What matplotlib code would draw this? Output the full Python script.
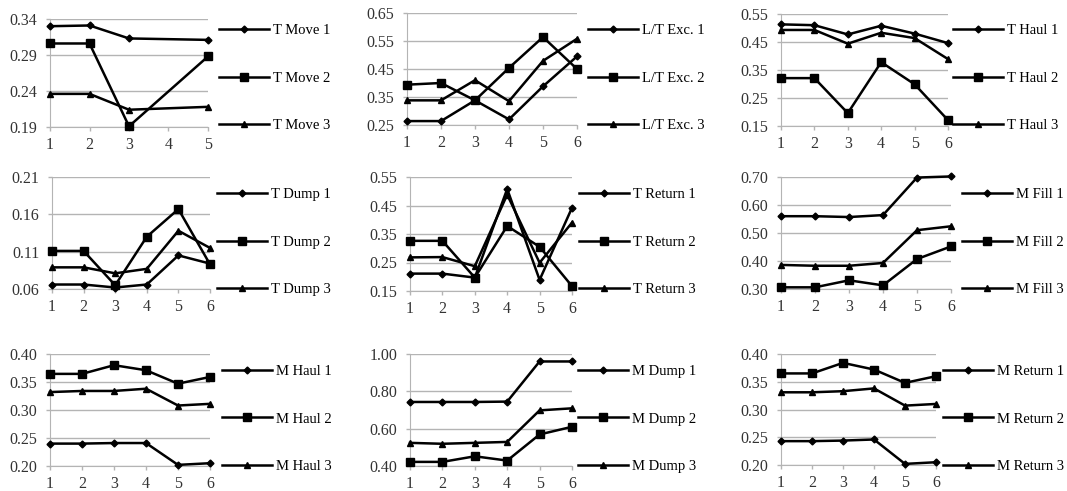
import matplotlib
matplotlib.use("Agg")
import matplotlib.pyplot as plt

plt.rcParams['font.family'] = ['Liberation Serif', 'DejaVu Serif']

# x positions
x_move = [1, 2, 3, 5]
x6 = [1, 2, 3, 4, 5, 6]

# row 1
t_move1 = [0.330, 0.331, 0.313, 0.311]
t_move2 = [0.306, 0.306, 0.191, 0.288]
t_move3 = [0.236, 0.236, 0.214, 0.218]

lt_exc1 = [0.264, 0.264, 0.338, 0.270, 0.388, 0.495]
lt_exc2 = [0.394, 0.400, 0.338, 0.454, 0.564, 0.450]
lt_exc3 = [0.338, 0.338, 0.410, 0.335, 0.479, 0.558]

t_haul1 = [0.513, 0.510, 0.477, 0.508, 0.480, 0.446]
t_haul2 = [0.321, 0.321, 0.196, 0.378, 0.299, 0.171]
t_haul3 = [0.493, 0.493, 0.444, 0.483, 0.464, 0.389]

# row 2
t_dump1 = [0.066, 0.066, 0.062, 0.066, 0.105, 0.094]
t_dump2 = [0.111, 0.111, 0.065, 0.130, 0.167, 0.093]
t_dump3 = [0.089, 0.089, 0.081, 0.087, 0.138, 0.115]

t_ret1 = [0.211, 0.211, 0.197, 0.508, 0.189, 0.442]
t_ret2 = [0.326, 0.326, 0.197, 0.378, 0.305, 0.167]
t_ret3 = [0.268, 0.269, 0.237, 0.488, 0.249, 0.390]

m_fill1 = [0.560, 0.560, 0.557, 0.564, 0.698, 0.702]
m_fill2 = [0.306, 0.306, 0.331, 0.313, 0.407, 0.452]
m_fill3 = [0.386, 0.383, 0.383, 0.393, 0.510, 0.524]

# row 3
m_haul1 = [0.240, 0.240, 0.241, 0.241, 0.202, 0.205]
m_haul2 = [0.3645, 0.3645, 0.380, 0.371, 0.347, 0.359]
m_haul3 = [0.332, 0.334, 0.334, 0.338, 0.308, 0.311]

m_dump1 = [0.743, 0.743, 0.743, 0.745, 0.960, 0.960]
m_dump2 = [0.422, 0.422, 0.452, 0.429, 0.569, 0.610]
m_dump3 = [0.524, 0.519, 0.524, 0.529, 0.698, 0.709]

m_ret1 = [0.243, 0.243, 0.244, 0.246, 0.202, 0.205]
m_ret2 = [0.365, 0.365, 0.384, 0.372, 0.348, 0.360]
m_ret3 = [0.331, 0.331, 0.333, 0.338, 0.307, 0.310]

W, H = 1067, 491
fig = plt.figure(figsize=(W / 100, H / 100), dpi=100)

# pixel box (left, right, top, bottom), legend (left, centre y), x, series, labels, yticks
panels = [
    ((50, 208, 19, 127), (219, 78), x_move, [t_move1, t_move2, t_move3],
     ['T Move 1', 'T Move 2', 'T Move 3'], [0.19, 0.24, 0.29, 0.34]),
    ((407, 577, 13, 125), (588, 78), x6, [lt_exc1, lt_exc2, lt_exc3],
     ['L/T Exc. 1', 'L/T Exc. 2', 'L/T Exc. 3'], [0.25, 0.35, 0.45, 0.55, 0.65]),
    ((781, 948, 14, 126), (953, 78), x6, [t_haul1, t_haul2, t_haul3],
     ['T Haul 1', 'T Haul 2', 'T Haul 3'], [0.15, 0.25, 0.35, 0.45, 0.55]),
    ((52, 210, 177, 289), (217, 242), x6, [t_dump1, t_dump2, t_dump3],
     ['T Dump 1', 'T Dump 2', 'T Dump 3'], [0.06, 0.11, 0.16, 0.21]),
    ((410, 572, 177, 291), (579, 242), x6, [t_ret1, t_ret2, t_ret3],
     ['T Return 1', 'T Return 2', 'T Return 3'], [0.15, 0.25, 0.35, 0.45, 0.55]),
    ((781, 951, 177, 289), (962, 242), x6, [m_fill1, m_fill2, m_fill3],
     ['M Fill 1', 'M Fill 2', 'M Fill 3'], [0.30, 0.40, 0.50, 0.60, 0.70]),
    ((50, 210, 354, 466), (222, 419), x6, [m_haul1, m_haul2, m_haul3],
     ['M Haul 1', 'M Haul 2', 'M Haul 3'], [0.20, 0.25, 0.30, 0.35, 0.40]),
    ((410, 572, 354, 466), (578, 419), x6, [m_dump1, m_dump2, m_dump3],
     ['M Dump 1', 'M Dump 2', 'M Dump 3'], [0.40, 0.60, 0.80, 1.00]),
    ((781, 936, 354, 465), (943, 419), x6, [m_ret1, m_ret2, m_ret3],
     ['M Return 1', 'M Return 2', 'M Return 3'], [0.20, 0.25, 0.30, 0.35, 0.40]),
]

markers = [('D', 3.5), ('s', 6), ('^', 5)]
grid_c = '#b4b4b4'

for (l, r, t, b), (lx, ly), xs, series, labels, yt in panels:
    ax = fig.add_axes([l / W, 1 - b / H, (r - l) / W, (b - t) / H])
    for ys, (m, ms), lab in zip(series, markers, labels):
        ax.plot(xs, ys, color='black', lw=1.8, marker=m, ms=ms, label=lab,
                clip_on=False, zorder=3)
    ax.set_xlim(xs[0], xs[-1])
    ax.set_ylim(yt[0], yt[-1])
    ax.set_xticks(range(xs[0], xs[-1] + 1))
    ax.set_yticks(yt)
    ax.set_yticklabels(['%.2f' % v for v in yt])
    ax.grid(axis='y', color=grid_c, lw=1)
    ax.set_axisbelow(True)
    for s in ['top', 'right']:
        ax.spines[s].set_visible(False)
    ax.spines['left'].set_color(grid_c)
    ax.spines['bottom'].set_color(grid_c)
    ax.tick_params(axis='both', colors=grid_c, labelcolor='#333333',
                   labelsize=11.5, length=3, width=1)
    ax.tick_params(axis='y', pad=6)
    ax.tick_params(axis='x', pad=4)
    ax.legend(loc='center left', bbox_to_anchor=(lx / W, 1 - ly / H),
              bbox_transform=fig.transFigure, frameon=False,
              fontsize=10.5, handlelength=3.4, handletextpad=0.3,
              labelspacing=2.33, borderpad=0, borderaxespad=0)

fig.savefig('out.png', dpi=100)
